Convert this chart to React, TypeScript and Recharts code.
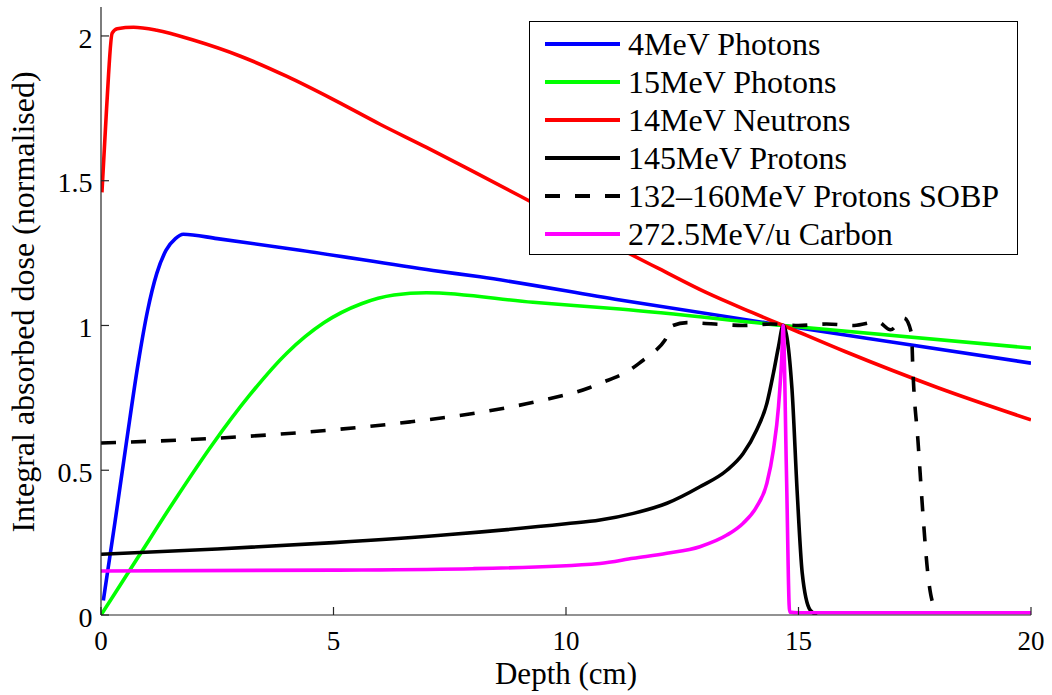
import React from 'react';
import { LineChart, Line, XAxis, YAxis, Legend } from 'recharts';

const FONT = '"Liberation Serif", "Times New Roman", Times, serif';

const depthTicks = [0, 5, 10, 15, 20];
const doseTicks = [0, 0.5, 1, 1.5, 2];

// 4MeV photons
const photon4Depth = [0.05, 0.3, 0.55, 0.8, 1.0, 1.2, 1.4, 1.6, 1.77, 2.5, 4.28, 7.14, 8.15, 11.16, 14.67, 17.0, 20.0];
const photon4Dose = [0.05, 0.32, 0.6, 0.87, 1.05, 1.18, 1.26, 1.3, 1.315, 1.3, 1.26, 1.19, 1.168, 1.088, 1.0, 0.943, 0.87];

// 15MeV photons
const photon15Depth = [0, 0.8, 1.6, 2.4, 3.2, 4.0, 4.8, 5.6, 6.3, 7.0, 9.29, 11.16, 14.67, 20.0];
const photon15Dose = [0, 0.2, 0.4, 0.59, 0.76, 0.905, 1.01, 1.075, 1.105, 1.113, 1.08, 1.057, 1.0, 0.922];

// 14MeV neutrons
const neutronDepth = [0.02, 0.12, 0.24, 0.35, 0.7, 1.2, 2.0, 3.0, 4.0, 5.0, 6.0, 7.0, 8.0, 9.0, 10.0, 11.0, 12.0, 13.0, 14.0, 14.67, 16.0, 18.0, 20.0];
const neutronDose = [1.46, 1.75, 2.01, 2.025, 2.03, 2.02, 1.985, 1.93, 1.86, 1.78, 1.695, 1.615, 1.532, 1.448, 1.363, 1.278, 1.196, 1.115, 1.045, 1.0, 0.91, 0.785, 0.674];

// 145MeV protons
const protonDepth = [0, 2.5, 5, 7.5, 10, 10.73, 11.45, 12.17, 12.88, 13.46, 13.81, 14.1, 14.32, 14.46, 14.57, 14.67, 14.86, 14.97, 15.08, 15.25, 15.4];
const protonDose = [0.21, 0.228, 0.25, 0.278, 0.315, 0.328, 0.351, 0.386, 0.443, 0.5, 0.558, 0.639, 0.731, 0.835, 0.927, 1.0, 0.78, 0.43, 0.145, 0.017, 0.0];

// 132-160MeV protons SOBP
const sobpDepth = [0, 2.4, 4.28, 6.65, 8.08, 9.5, 10.5, 10.73, 11.37, 11.66, 11.87, 12.13, 12.3, 12.6, 13.2, 13.8, 14.4, 15.0, 15.6, 16.2, 16.7, 16.98, 17.27, 17.43, 17.46, 17.57, 17.68, 17.78, 17.89, 17.92];
const sobpDose = [0.594, 0.61, 0.63, 0.667, 0.698, 0.742, 0.785, 0.8, 0.846, 0.88, 0.905, 0.95, 1.0, 1.01, 1.005, 1.0, 1.005, 1.0, 1.005, 1.0, 1.013, 0.985, 1.025, 0.973, 0.846, 0.6, 0.34, 0.145, 0.04, 0.03];

// 272.5MeV/u carbon
const carbonDepth = [0, 5, 8, 10.73, 11.45, 12.17, 12.88, 13.46, 13.81, 14.1, 14.32, 14.46, 14.57, 14.64, 14.67, 14.74, 14.81, 15.0, 20.0];
const carbonDose = [0.152, 0.155, 0.16, 0.178, 0.196, 0.213, 0.236, 0.276, 0.317, 0.374, 0.455, 0.57, 0.72, 0.89, 1.0, 0.5, 0.01, 0.008, 0.008];

const toPoints = (depth: number[], dose: number[]) =>
  depth.map((d, i) => ({ depth: d, dose: dose[i] }));

const series = [
  { name: '4MeV Photons', color: '#0000ff', dash: undefined, data: toPoints(photon4Depth, photon4Dose) },
  { name: '15MeV Photons', color: '#00ff00', dash: undefined, data: toPoints(photon15Depth, photon15Dose) },
  { name: '14MeV Neutrons', color: '#ff0000', dash: undefined, data: toPoints(neutronDepth, neutronDose) },
  { name: '145MeV Protons', color: '#000000', dash: undefined, data: toPoints(protonDepth, protonDose) },
  { name: '132\u2013160MeV Protons SOBP', color: '#000000', dash: '15 15', data: toPoints(sobpDepth, sobpDose) },
  { name: '272.5MeV/u Carbon', color: '#ff00ff', dash: undefined, data: toPoints(carbonDepth, carbonDose) },
];

const LegendBox = () => (
  <div
    style={{
      width: 489,
      height: 234,
      boxSizing: 'border-box',
      border: '1.5px solid #000',
      background: '#fff',
      paddingTop: 3,
    }}
  >
    {series.map((s) => (
      <div key={s.name} style={{ display: 'flex', alignItems: 'center', height: 38 }}>
        <svg width={98} height={38} style={{ flex: 'none' }}>
          <line x1={15} x2={90} y1={19} y2={19} stroke={s.color} strokeWidth={4} strokeDasharray={s.dash} />
        </svg>
        <span style={{ fontFamily: FONT, fontSize: 32, lineHeight: '38px', color: '#000', whiteSpace: 'nowrap' }}>
          {s.name}
        </span>
      </div>
    ))}
  </div>
);

const XTick = (props: any) => (
  <text x={props.x} y={props.y + 19} textAnchor="middle" fill="#000" style={{ fontFamily: FONT, fontSize: 27 }}>
    {props.payload.value}
  </text>
);

const YTick = (props: any) => (
  <text x={props.x} y={props.y} dy="0.42em" textAnchor="end" fill="#000" style={{ fontFamily: FONT, fontSize: 28 }}>
    {props.payload.value}
  </text>
);

const XLabel = () => (
  <text x={566} y={684} textAnchor="middle" fill="#000" style={{ fontFamily: FONT, fontSize: 31 }}>
    Depth (cm)
  </text>
);

const YLabel = () => (
  <text
    x={34}
    y={302}
    transform="rotate(-90 34 302)"
    textAnchor="middle"
    fill="#000"
    style={{ fontFamily: FONT, fontSize: 32 }}
  >
    Integral absorbed dose (normalised)
  </text>
);

export default function App() {
  return (
    <div style={{ position: 'absolute', left: 0, top: 0, background: '#fff' }}>
      <LineChart width={1052} height={695} margin={{ top: 7, right: 21, bottom: 0, left: 0 }}>
        <XAxis
          dataKey="depth"
          type="number"
          domain={[0, 20]}
          ticks={depthTicks}
          allowDataOverflow
          height={80}
          stroke="#262626"
          strokeWidth={1.2}
          tickSize={-8}
          tickMargin={24}
          tick={<XTick />}
          label={{ position: 'insideBottom', content: () => <XLabel /> }}
        />
        <YAxis
          type="number"
          domain={[0, 2.1]}
          ticks={doseTicks}
          allowDataOverflow
          width={101}
          stroke="#262626"
          strokeWidth={1.2}
          tickSize={-8}
          tickMargin={16.5}
          tick={<YTick />}
          label={{ position: 'center', content: () => <YLabel /> }}
        />
        {series.map((s) => (
          <Line
            key={s.name}
            name={s.name}
            data={s.data}
            dataKey="dose"
            type="monotone"
            stroke={s.color}
            strokeWidth={3.6}
            strokeDasharray={s.dash}
            dot={false}
            activeDot={false}
            isAnimationActive={false}
          />
        ))}
        <Legend
          layout="horizontal"
          verticalAlign="middle"
          align="center"
          content={() => <LegendBox />}
          wrapperStyle={{ left: 529, top: 21, width: 489, height: 234 }}
        />
      </LineChart>
    </div>
  );
}
